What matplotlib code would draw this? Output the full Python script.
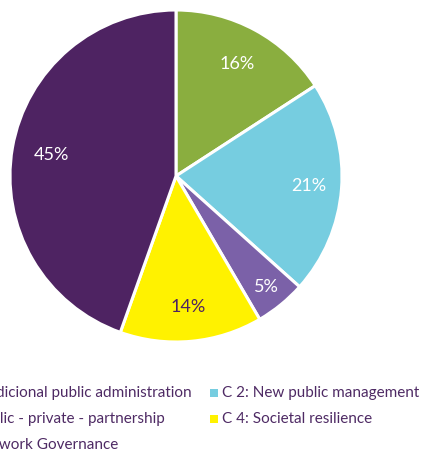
import matplotlib
matplotlib.use("Agg")
import matplotlib.pyplot as plt
from matplotlib.patches import Rectangle

categories = ["C 1: Tradicional public administration", "C 2: New public management",
              "C 3: Public - private - partnership", "C 4: Societal resilience",
              "C 5: Network Governance"]
# pie order (clockwise from top)
pie_labels = ["C 1: Tradicional public administration", "C 2: New public management",
              "C 3: Public - private - partnership", "C 4: Societal resilience",
              "C 5: Network Governance"]
values = [16, 21, 5, 14, 45]
colors = ["#8aae3f", "#76cde0", "#7b61a8", "#fff200", "#4e2362"]
pct_colors = ["white", "white", "white", "#4e2362", "white"]
pct_dist = [0.77, 0.80, 0.86, 0.79, 0.76]

text_color = "#4e2a64"
plt.rcParams['font.family'] = ['Lato', 'DejaVu Sans']

W, H = 426, 454
fig = plt.figure(figsize=(W / 100, H / 100), dpi=100)
ax = fig.add_axes([10 / W, 1 - 342 / H, 332 / W, 332 / H])
wedges, texts, autotexts = ax.pie(values, colors=colors, startangle=90, counterclock=False,
                                  autopct=lambda p: f"{p:.0f}%", pctdistance=0.78,
                                  wedgeprops=dict(edgecolor="white", linewidth=2.2),
                                  textprops=dict(fontsize=13, fontweight="normal"))
for t, c, d in zip(autotexts, pct_colors, pct_dist):
    t.set_color(c)
    x, y = t.get_position()
    r = (x ** 2 + y ** 2) ** 0.5
    t.set_position((x / r * d, y / r * d))
ax.set_xlim(-1, 1)
ax.set_ylim(-1, 1)
ax.set_aspect("equal")
ax.axis("off")

# legend (two columns, first column partly off canvas)
fig.canvas.draw()
renderer = fig.canvas.get_renderer()
row_y = [393, 419, 445]
fs = 11
col2_text_x = 222
col1_right = 192
legend_colors = dict(zip(pie_labels, colors))
for i, lab in enumerate(categories):
    col, row = i % 2, i // 2
    y = 1 - row_y[row] / H
    t = fig.text(0, y, lab, fontsize=fs, color=text_color, va="center", ha="left")
    if col == 1:
        tx = col2_text_x
    else:
        if i == 0:
            w = t.get_window_extent(renderer).width
            col1_x = col1_right - w
        tx = col1_x
    t.set_x(tx / W)
    fig.patches.append(Rectangle(((tx - 12) / W, y - 4 / H), 8 / W, 8 / H,
                                 transform=fig.transFigure, facecolor=legend_colors[lab],
                                 edgecolor="none"))

fig.savefig("out.png", dpi=100)
